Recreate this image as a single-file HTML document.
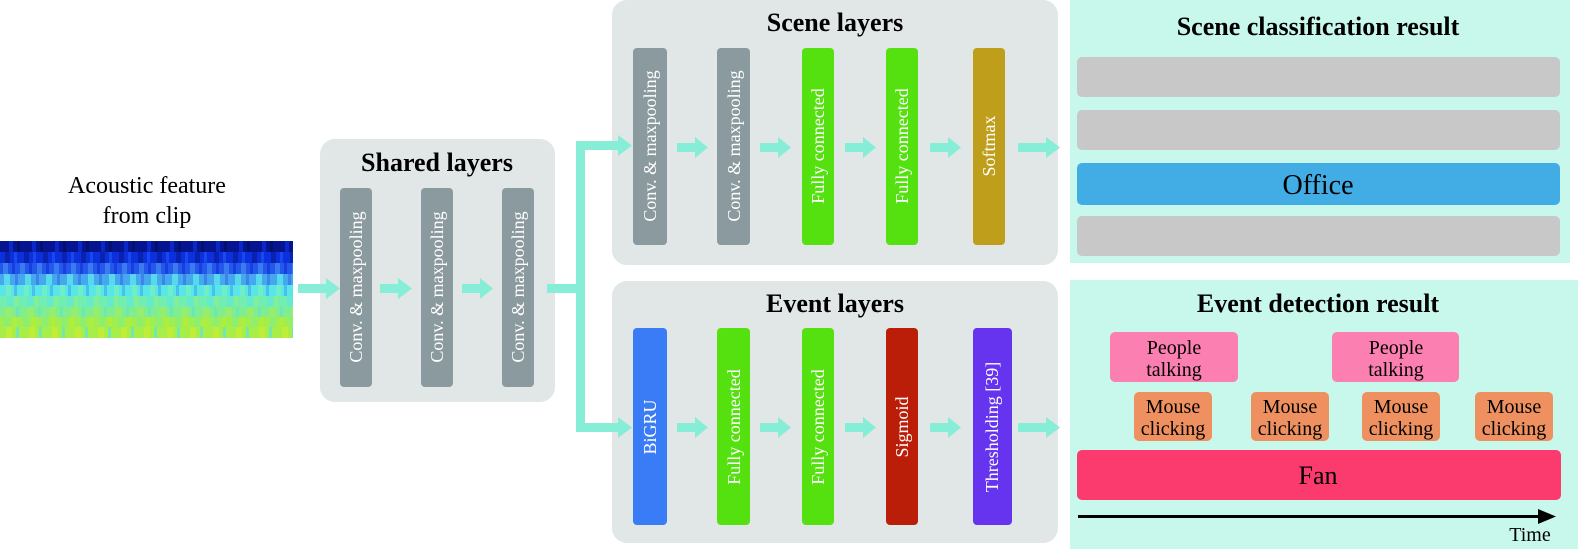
<!DOCTYPE html>
<html><head><meta charset="utf-8"><style>
body{margin:0;background:#fff}
svg text{font-family:"Liberation Serif",serif}
</style></head><body>
<svg width="1578" height="549" xmlns="http://www.w3.org/2000/svg">
<defs>
<pattern id="p1" width="23" height="11" patternUnits="userSpaceOnUse"><rect width="23" height="11" fill="#06148f"/><rect x="9" width="4" height="11" fill="#0a28c8"/><rect x="17" width="3" height="11" fill="#02106e"/></pattern>
<pattern id="p2" width="19" height="11" patternUnits="userSpaceOnUse"><rect width="19" height="11" fill="#0d30dd"/><rect x="5" width="5" height="11" fill="#0a22b0"/><rect x="14" width="3" height="11" fill="#1a48f0"/></pattern>
<pattern id="p3" width="17" height="11" patternUnits="userSpaceOnUse"><rect width="17" height="11" fill="#2458ea"/><rect x="3" width="5" height="11" fill="#3a7cf0"/><rect x="12" width="3" height="11" fill="#1840e0"/></pattern>
<pattern id="p4" width="21" height="11" patternUnits="userSpaceOnUse"><rect width="21" height="11" fill="#45a8ee"/><rect x="4" width="6" height="11" fill="#58d8ee"/><rect x="15" width="3" height="11" fill="#3a84ea"/></pattern>
<pattern id="p5" width="18" height="11" patternUnits="userSpaceOnUse"><rect width="18" height="11" fill="#5ae6e6"/><rect x="6" width="5" height="11" fill="#70eec8"/><rect x="14" width="3" height="11" fill="#48c0ee"/></pattern>
<pattern id="p6" width="20" height="11" patternUnits="userSpaceOnUse"><rect width="20" height="11" fill="#72eeb0"/><rect x="7" width="6" height="11" fill="#66eace"/><rect x="15" width="3" height="11" fill="#88ee90"/></pattern>
<pattern id="p7" width="22" height="11" patternUnits="userSpaceOnUse"><rect width="22" height="11" fill="#80ee90"/><rect x="5" width="7" height="11" fill="#96ee70"/><rect x="16" width="3" height="11" fill="#6ae8b8"/></pattern>
<pattern id="p8" width="19" height="11" patternUnits="userSpaceOnUse"><rect width="19" height="11" fill="#a0ee50"/><rect x="4" width="6" height="11" fill="#8eee70"/><rect x="13" width="4" height="11" fill="#b0ee3c"/></pattern>
<pattern id="p9" width="23" height="11" patternUnits="userSpaceOnUse"><rect width="23" height="11" fill="#a8ee48"/><rect x="6" width="6" height="11" fill="#c0ee38"/><rect x="16" width="3" height="11" fill="#70e8b0"/></pattern>
</defs>
<!-- heatmap -->
<g>
<rect x="0" y="241" width="293" height="11" fill="url(#p1)"/>
<rect x="0" y="252" width="293" height="11" fill="url(#p2)"/>
<rect x="0" y="263" width="293" height="11" fill="url(#p3)"/>
<rect x="0" y="274" width="293" height="11" fill="url(#p4)"/>
<rect x="0" y="285" width="293" height="11" fill="url(#p5)"/>
<rect x="0" y="296" width="293" height="11" fill="url(#p6)"/>
<rect x="0" y="307" width="293" height="10" fill="url(#p7)"/>
<rect x="0" y="317" width="293" height="10" fill="url(#p8)"/>
<rect x="0" y="327" width="293" height="11" fill="url(#p9)"/>
</g>
<text x="147" y="193" font-size="24" text-anchor="middle">Acoustic feature</text>
<text x="147" y="223" font-size="24" text-anchor="middle">from clip</text>

<!-- shared -->
<rect x="320" y="139" width="235" height="263" rx="15" fill="#e1e6e6"/>
<text x="437" y="171" font-size="26" font-weight="bold" text-anchor="middle">Shared layers</text>
<g fill="#8a9a9e">
<rect x="340" y="188" width="32" height="199" rx="4"/>
<rect x="421" y="188" width="32" height="199" rx="4"/>
<rect x="502" y="188" width="32" height="199" rx="4"/>
</g>
<g font-size="18" fill="#fff" text-anchor="middle">
<text transform="translate(362,287) rotate(-90)">Conv. &amp; maxpooling</text>
<text transform="translate(443,287) rotate(-90)">Conv. &amp; maxpooling</text>
<text transform="translate(524,287) rotate(-90)">Conv. &amp; maxpooling</text>
</g>

<!-- scene layers -->
<rect x="612" y="0" width="446" height="265" rx="15" fill="#e1e6e6"/>
<text x="835" y="31" font-size="26" font-weight="bold" text-anchor="middle">Scene layers</text>
<rect x="633" y="48" width="34" height="197" rx="4" fill="#8a9a9e"/>
<rect x="717" y="48" width="33" height="197" rx="4" fill="#8a9a9e"/>
<rect x="802" y="48" width="32" height="197" rx="4" fill="#55e00f"/>
<rect x="886" y="48" width="32" height="197" rx="4" fill="#55e00f"/>
<rect x="973" y="48" width="32" height="197" rx="4" fill="#bf9e1c"/>
<g font-size="18" fill="#fff" text-anchor="middle">
<text transform="translate(656,146) rotate(-90)">Conv. &amp; maxpooling</text>
<text transform="translate(740,146) rotate(-90)">Conv. &amp; maxpooling</text>
<text transform="translate(824,146) rotate(-90)">Fully connected</text>
<text transform="translate(908,146) rotate(-90)">Fully connected</text>
<text transform="translate(995,146) rotate(-90)">Softmax</text>
</g>

<!-- event layers -->
<rect x="612" y="281" width="446" height="262" rx="15" fill="#e1e6e6"/>
<text x="835" y="312" font-size="26" font-weight="bold" text-anchor="middle">Event layers</text>
<rect x="633" y="328" width="34" height="197" rx="4" fill="#3a7cf5"/>
<rect x="717" y="328" width="33" height="197" rx="4" fill="#55e00f"/>
<rect x="802" y="328" width="32" height="197" rx="4" fill="#55e00f"/>
<rect x="886" y="328" width="32" height="197" rx="4" fill="#bb1e08"/>
<rect x="973" y="328" width="39" height="197" rx="4" fill="#6633ee"/>
<g font-size="18" fill="#fff" text-anchor="middle">
<text transform="translate(656,427) rotate(-90)">BiGRU</text>
<text transform="translate(740,427) rotate(-90)">Fully connected</text>
<text transform="translate(824,427) rotate(-90)">Fully connected</text>
<text transform="translate(908,427) rotate(-90)">Sigmoid</text>
<text transform="translate(998,427) rotate(-90)">Thresholding [39]</text>
</g>

<!-- scene result -->
<rect x="1070" y="0" width="500" height="263" fill="#c8f7ec"/>
<text x="1318" y="35" font-size="26" font-weight="bold" text-anchor="middle">Scene classification result</text>
<rect x="1077" y="57" width="483" height="40" rx="5" fill="#c8c8c8"/>
<rect x="1077" y="110" width="483" height="40" rx="5" fill="#c8c8c8"/>
<rect x="1077" y="163" width="483" height="42" rx="5" fill="#42ade4"/>
<rect x="1077" y="216" width="483" height="40" rx="5" fill="#c8c8c8"/>
<text x="1318" y="194" font-size="28" text-anchor="middle">Office</text>

<!-- event result -->
<rect x="1070" y="280" width="508" height="269" fill="#c8f7ec"/>
<text x="1318" y="312" font-size="26" font-weight="bold" text-anchor="middle">Event detection result</text>
<rect x="1110" y="332" width="128" height="50" rx="5" fill="#fb7fb0"/>
<rect x="1332" y="332" width="127" height="50" rx="5" fill="#fb7fb0"/>
<g fill="#ee9060">
<rect x="1134" y="392" width="78" height="49" rx="5"/>
<rect x="1251" y="392" width="78" height="49" rx="5"/>
<rect x="1362" y="392" width="78" height="49" rx="5"/>
<rect x="1475" y="392" width="78" height="49" rx="5"/>
</g>
<rect x="1077" y="450" width="484" height="50" rx="5" fill="#fb3a6e"/>
<g font-size="20" text-anchor="middle">
<text x="1174" y="354">People</text><text x="1174" y="376">talking</text>
<text x="1396" y="354">People</text><text x="1396" y="376">talking</text>
<text x="1173" y="413">Mouse</text><text x="1173" y="435">clicking</text>
<text x="1290" y="413">Mouse</text><text x="1290" y="435">clicking</text>
<text x="1401" y="413">Mouse</text><text x="1401" y="435">clicking</text>
<text x="1514" y="413">Mouse</text><text x="1514" y="435">clicking</text>
</g>
<text x="1318" y="484" font-size="26" text-anchor="middle">Fan</text>
<rect x="1078" y="515" width="462" height="3" fill="#000"/>
<polygon points="1538,509 1556,516.5 1538,524" fill="#000"/>
<text x="1530" y="541" font-size="20" text-anchor="middle">Time</text>

<!-- arrows on top -->
<g fill="#86eed6">
<rect x="298" y="284" width="28" height="9"/><polygon points="326,278 340,288.5 326,299"/>
<rect x="380" y="284" width="20" height="9"/><polygon points="398,278 412,288.5 398,299"/>
<rect x="462" y="284" width="20" height="9"/><polygon points="480,278 493,288.5 480,299"/>
<rect x="547" y="284" width="37" height="9"/>
<rect x="576" y="141" width="9" height="291"/>
<rect x="576" y="141" width="44" height="9"/><polygon points="618,135 632,145.5 618,156"/>
<rect x="576" y="423" width="44" height="9"/><polygon points="618,417 632,427.5 618,438"/>
<rect x="677" y="143" width="20" height="9"/><polygon points="695,137 708,147.5 695,158"/>
<rect x="760" y="143" width="20" height="9"/><polygon points="778,137 791,147.5 778,158"/>
<rect x="845" y="143" width="20" height="9"/><polygon points="863,137 876,147.5 863,158"/>
<rect x="930" y="143" width="20" height="9"/><polygon points="948,137 961,147.5 948,158"/>
<rect x="1018" y="143" width="30" height="9"/><polygon points="1046,137 1060,147.5 1046,158"/>
<rect x="677" y="423" width="20" height="9"/><polygon points="695,417 708,427.5 695,438"/>
<rect x="760" y="423" width="20" height="9"/><polygon points="778,417 791,427.5 778,438"/>
<rect x="845" y="423" width="20" height="9"/><polygon points="863,417 876,427.5 863,438"/>
<rect x="930" y="423" width="20" height="9"/><polygon points="948,417 961,427.5 948,438"/>
<rect x="1018" y="423" width="30" height="9"/><polygon points="1046,417 1060,427.5 1046,438"/>
</g>
</svg>
</body></html>
